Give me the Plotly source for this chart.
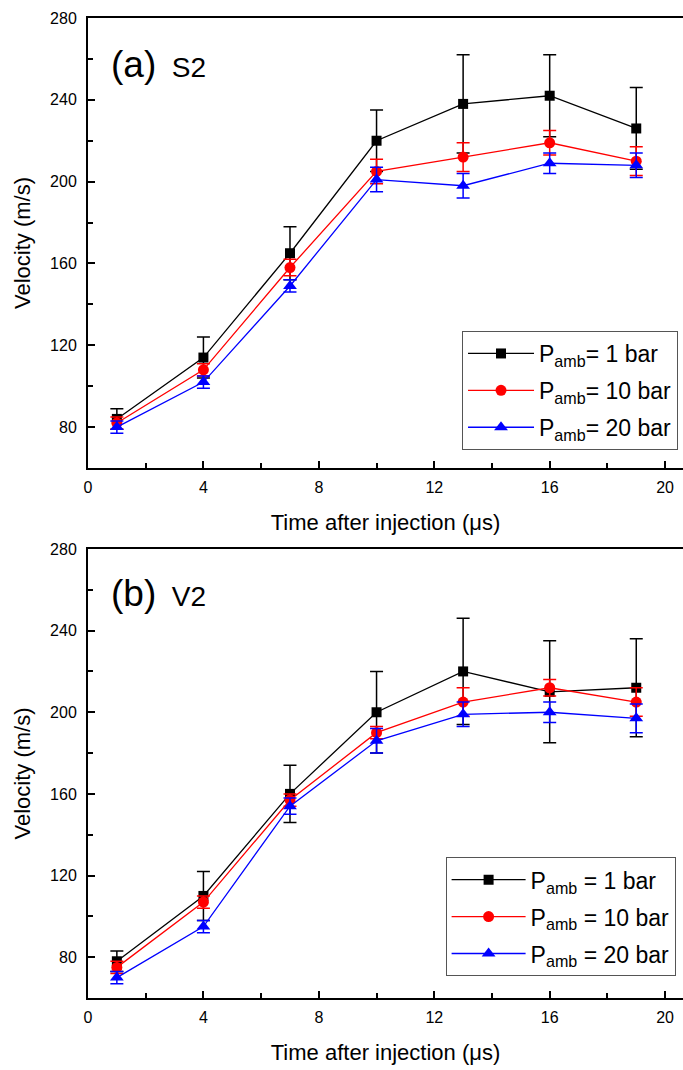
import plotly.graph_objects as go

time_us = [1, 4, 7, 10, 13, 16, 19]

# Panel (a) S2
s2_1bar = [84, 114, 165, 220, 238, 242, 226]
s2_1bar_err = [5, 10, 13, 15, 24, 20, 20]
s2_10bar = [82, 108, 158, 205, 212, 219, 210]
s2_10bar_err = [3, 3, 4, 6, 7, 6, 7]
s2_20bar = [80, 102, 149, 201, 198, 209, 208]
s2_20bar_err = [3, 3, 3, 6, 6, 5, 6]

# Panel (b) V2
v2_1bar = [78, 110, 160, 200, 220, 210, 212]
v2_1bar_err = [5, 12, 14, 20, 26, 25, 24]
v2_10bar = [75, 107, 157, 190, 205, 212, 205]
v2_10bar_err = [3, 3, 3, 3, 7, 4, 7]
v2_20bar = [70, 95, 154, 186, 199, 200, 197]
v2_20bar_err = [3, 3, 4, 6, 6, 5, 7]

labels_a = ["P<sub>amb</sub>= 1 bar", "P<sub>amb</sub>= 10 bar", "P<sub>amb</sub>= 20 bar"]
labels_b = ["P<sub>amb</sub> = 1 bar", "P<sub>amb</sub> = 10 bar", "P<sub>amb</sub> = 20 bar"]
colors = ["#000000", "#ff0000", "#0000ff"]
symbols = ["square", "circle", "triangle-up"]
msizes = [10, 11, 12]

FONT = "Arial, 'Liberation Sans', sans-serif"

fig = go.Figure()

panels = [
    ("x", "y", "legend", labels_a, [(s2_1bar, s2_1bar_err), (s2_10bar, s2_10bar_err), (s2_20bar, s2_20bar_err)]),
    ("x2", "y2", "legend2", labels_b, [(v2_1bar, v2_1bar_err), (v2_10bar, v2_10bar_err), (v2_20bar, v2_20bar_err)]),
]
for xa, ya, lg, labs, series in panels:
    for i, (vals, errs) in enumerate(series):
        fig.add_trace(go.Scatter(
            x=time_us, y=vals, xaxis=xa, yaxis=ya, legend=lg,
            legendgroup=f"{lg}_{i}",
            name=labs[i], mode="lines+markers",
            line=dict(color=colors[i], width=1.3),
            marker=dict(symbol=symbols[i], size=msizes[i], color=colors[i]),
            error_y=dict(type="data", array=errs, visible=True, color=colors[i],
                         thickness=1.5, width=6.5),
        ))

axis_common = dict(
    showline=True, linecolor="black", linewidth=2,
    ticks="inside", ticklen=7, tickwidth=1.5, tickcolor="black",
    showgrid=False, zeroline=False,
    tickfont=dict(family=FONT, size=16, color="black"),
)
xcommon = dict(axis_common, range=[0, 20.62], tickvals=[0, 4, 8, 12, 16, 20],
               minor=dict(tickvals=[2, 6, 10, 14, 18], ticklen=5, tickwidth=1.5,
                          tickcolor="black", ticks="inside"),
               mirror=True, ticklabelstandoff=4,
               title=dict(text="Time after injection (\u03bcs)",
                          font=dict(family=FONT, size=22, color="black"), standoff=19))
ycommon = dict(axis_common, range=[60, 280], tickvals=[80, 120, 160, 200, 240, 280],
               minor=dict(tickvals=[60, 100, 140, 180, 220, 260], ticklen=5, tickwidth=1.5,
                          tickcolor="black", ticks="inside"),
               ticklabelstandoff=6,
               title=dict(text="Velocity (m/s)",
                          font=dict(family=FONT, size=22, color="black"), standoff=13))

legend_common = dict(xanchor="left", yanchor="top",
                     bordercolor="#555555", borderwidth=1, bgcolor="white",
                     font=dict(family=FONT, size=23, color="black"),
                     tracegroupgap=4)

fig.update_layout(
    width=683, height=1070,
    margin=dict(l=88, r=0, t=18, b=72),
    paper_bgcolor="white", plot_bgcolor="white",
    font=dict(family=FONT, color="black"),
    xaxis=dict(xcommon, domain=[0, 1], anchor="y"),
    yaxis=dict(ycommon, domain=[0.5408, 1.0], anchor="x"),
    xaxis2=dict(xcommon, domain=[0, 1], anchor="y2"),
    yaxis2=dict(ycommon, domain=[0.0, 0.4582], anchor="x2"),
    legend=dict(legend_common, x=0.6286, y=0.6806, itemwidth=66),
    legend2=dict(legend_common, x=0.601, y=0.1436, itemwidth=74),
    annotations=[
        dict(text="(a)<span style='font-size:28px'>  S2</span>", xref="paper", yref="paper",
             x=(109 - 88) / 595, y=(998 - 64) / 980, xanchor="left", yanchor="middle",
             showarrow=False, font=dict(family=FONT, size=37, color="black")),
        dict(text="(b)<span style='font-size:28px'>  V2</span>", xref="paper", yref="paper",
             x=(109 - 88) / 595, y=(998 - 593) / 980, xanchor="left", yanchor="middle",
             showarrow=False, font=dict(family=FONT, size=37, color="black")),
    ],
)

fig.write_html("out.html")
